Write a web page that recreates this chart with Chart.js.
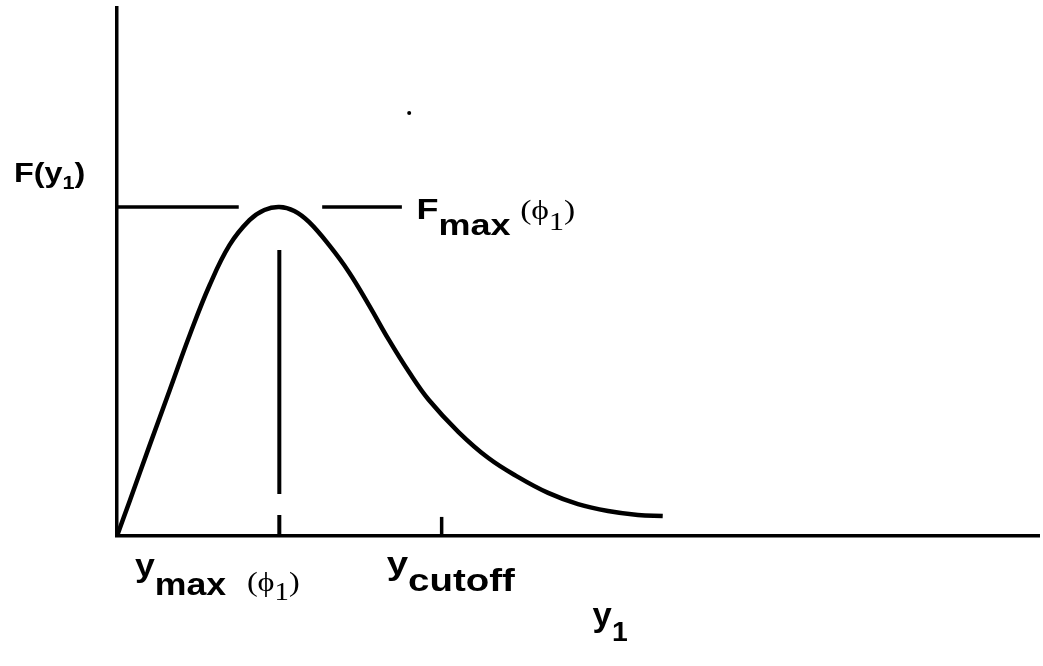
<!DOCTYPE html>
<html>
<head>
<meta charset="utf-8">
<script src="https://cdn.jsdelivr.net/npm/chart.js@4/dist/chart.umd.min.js"></script>
<style>
  html, body { margin: 0; padding: 0; background: #fff; }
  #wrap { width: 1043px; height: 666px; position: relative; }
</style>
</head>
<body>
<div id="wrap"><canvas id="c" width="1043" height="666"></canvas></div>
<script>
// Curve F(y1): x in units of y_max, y in units of F_max
const curveX = [0, 0.080, 0.202, 0.325, 0.448, 0.571, 0.693, 0.816, 0.908, 1.0, 1.092, 1.184, 1.307, 1.429, 1.552, 1.675, 1.798, 1.920, 2.104, 2.288, 2.472, 2.656, 2.840, 3.025, 3.209, 3.362];
const curveY = [0, 0.109, 0.277, 0.444, 0.611, 0.763, 0.884, 0.960, 0.991, 1.0, 0.988, 0.954, 0.884, 0.802, 0.702, 0.596, 0.499, 0.414, 0.316, 0.237, 0.179, 0.131, 0.097, 0.076, 0.064, 0.061];

// Dashed F_max level line (null = gap)
const fmaxX = [0, 0.75, 1.0, 1.264, 1.755];
const fmaxY = [1, 1, null, 1, 1];

// Dashed vertical y_max line
const ymaxLineX = [1, 1, 1, 1, 1];
const ymaxLineY = [0.869, 0.128, null, 0.064, 0];

// Tick at y_cutoff
const cutoffX = [2, 2];
const cutoffY = [0, 0.058];

// Stray speck in the original
const speckX = [1.80];
const speckY = [1.286];

const xMax = 5.68;
const yMax = 1.605;

const toPts = (xs, ys) => xs.map((x, i) => ({ x: x, y: ys[i] }));

const labelPlugin = {
  id: 'labels',
  afterDraw(chart) {
    const ctx = chart.ctx;
    const xs = chart.scales.x, ys = chart.scales.y;
    const SANS = '"Liberation Sans", Arial, sans-serif';
    const SERIF = '"Liberation Serif", "DejaVu Serif", serif';
    function runs(x0, base, sx, parts) {
      let x = 0;
      ctx.save();
      ctx.translate(x0, base);
      ctx.scale(sx, 1);
      ctx.fillStyle = '#000';
      ctx.textBaseline = 'alphabetic';
      ctx.textAlign = 'left';
      for (const p of parts) {
        if (p.gap) { x += p.gap; continue; }
        ctx.font = p.font;
        ctx.fillText(p.t, x, (p.dy || 0));
        x += ctx.measureText(p.t).width;
      }
      ctx.restore();
    }
    const x0 = xs.getPixelForValue(0);
    const y0 = ys.getPixelForValue(0);
    const yF = ys.getPixelForValue(1);
    const xC = xs.getPixelForValue(2);
    const PHI = '\u03D5';

    // F(y1)
    runs(x0 - 103, yF - 25, 1.2, [
      { t: 'F(y', font: 'bold 27px ' + SANS },
      { t: '1', font: 'bold 18px ' + SANS, dy: 7 },
      { t: ')', font: 'bold 27px ' + SANS }
    ]);
    // F_max (phi1)
    runs(xs.getPixelForValue(1.845), yF + 12, 1.2, [
      { t: 'F', font: 'bold 30px ' + SANS },
      { t: 'max', font: 'bold 30px ' + SANS, dy: 16 },
      { gap: 8 },
      { t: '(' + PHI, font: '28px ' + SERIF, dy: 0 },
      { t: '1', font: '25px ' + SERIF, dy: 11 },
      { t: ')', font: '28px ' + SERIF, dy: 0 }
    ]);
    // y_max (phi1)
    runs(x0 + 18, y0 + 40, 1.15, [
      { t: 'y', font: 'bold 31px ' + SANS },
      { t: 'max', font: 'bold 31px ' + SANS, dy: 19 },
      { gap: 18 },
      { t: '(' + PHI, font: '28px ' + SERIF, dy: 15 },
      { t: '1', font: '25px ' + SERIF, dy: 24 },
      { t: ')', font: '28px ' + SERIF, dy: 15 }
    ]);
    // y_cutoff
    runs(xC - 55, y0 + 38, 1.24, [
      { t: 'y', font: 'bold 31px ' + SANS },
      { t: 'cutoff', font: 'bold 31px ' + SANS, dy: 17 }
    ]);
    // y1
    runs(xs.getPixelForValue(2.93), y0 + 90, 1.05, [
      { t: 'y', font: 'bold 33px ' + SANS },
      { t: '1', font: 'bold 27px ' + SANS, dy: 15 }
    ]);
  }
};

new Chart(document.getElementById('c'), {
  type: 'line',
  data: {
    datasets: [
      { label: 'F(y1)', data: toPts(curveX, curveY), borderColor: '#000', borderWidth: 4.5, pointRadius: 0, tension: 0.4, fill: false },
      { label: 'Fmax', data: toPts(fmaxX, fmaxY), borderColor: '#000', borderWidth: 3.5, pointRadius: 0, spanGaps: false, borderCapStyle: 'butt' },
      { label: 'ymax', data: toPts(ymaxLineX, ymaxLineY), borderColor: '#000', borderWidth: 4, pointRadius: 0, spanGaps: false, borderCapStyle: 'butt' },
      { label: 'cutoff', data: toPts(cutoffX, cutoffY), borderColor: '#000', borderWidth: 3.5, pointRadius: 0, borderCapStyle: 'butt' },
      { label: 'speck', data: toPts(speckX, speckY), borderColor: '#000', backgroundColor: '#000', showLine: false, pointRadius: 2, pointBorderWidth: 0 }
    ]
  },
  options: {
    responsive: false,
    animation: false,
    events: [],
    layout: { padding: { left: 117, top: 8, right: 0, bottom: 130 } },
    plugins: { legend: { display: false }, tooltip: { enabled: false }, title: { display: false } },
    scales: {
      x: {
        type: 'linear', min: 0, max: xMax,
        ticks: { display: false },
        grid: { display: false, drawTicks: false },
        border: { display: true, width: 3.5, color: '#000' }
      },
      y: {
        type: 'linear', min: 0, max: yMax,
        ticks: { display: false },
        grid: { display: false, drawTicks: false },
        border: { display: true, width: 3.5, color: '#000' }
      }
    }
  },
  plugins: [labelPlugin]
});
</script>
</body>
</html>
